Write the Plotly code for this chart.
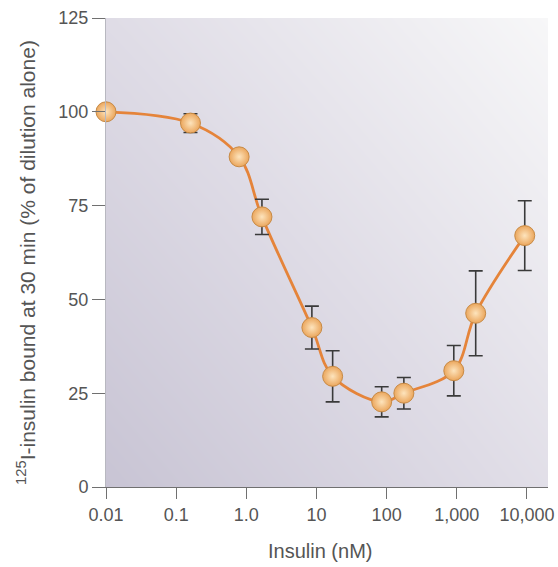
import plotly.graph_objects as go

# Data
insulin_nM = [0.01, 0.16, 0.79, 1.67, 8.6, 17, 85, 176, 906, 1860, 9300]
bound_pct = [100, 97, 88, 72, 42.5, 29.5, 22.7, 25, 31, 46.3, 67]
err_pct = [0, 2.5, 0, 4.7, 5.7, 6.8, 4.0, 4.2, 6.7, 11.3, 9.3]

x_tickvals = [0.01, 0.1, 1, 10, 100, 1000, 10000]
x_ticktext = ["0.01", "0.1", "1.0", "10", "100", "1,000", "10,000"]
y_tickvals = [0, 25, 50, 75, 100, 125]

x_title = "Insulin (nM)"
y_title = "<sup>125</sup>I-insulin bound at 30 min (% of dilution alone)"

font_family = "Liberation Sans, Arial, sans-serif"
text_color = "#555555"

fig = go.Figure()

# Gradient background for the plot area (on hidden base axes)
fig.add_trace(go.Heatmap(
    x=[0, 1], y=[0, 1], z=[[0, 0.55], [0.5, 1]],
    zsmooth="best", showscale=False, hoverinfo="skip",
    colorscale=[[0, "#c8c4d4"], [0.5, "#dfdce6"], [1, "#f7f7f8"]],
    xaxis="x", yaxis="y",
))

# Smooth curve
fig.add_trace(go.Scatter(
    x=insulin_nM, y=bound_pct, mode="lines",
    line=dict(color="#e5843a", width=2.8, shape="spline", smoothing=1.0),
    xaxis="x2", yaxis="y2", hoverinfo="skip", cliponaxis=False,
))

# Points with error bars
fig.add_trace(go.Scatter(
    x=insulin_nM, y=bound_pct, mode="markers",
    error_y=dict(type="data", array=err_pct, visible=True,
                 color="#3a3a3a", thickness=1.6, width=7),
    marker=dict(size=20, color="#eba65c",
                gradient=dict(type="radial", color="#fde4bd"),
                line=dict(color="#c78a45", width=1)),
    xaxis="x2", yaxis="y2", cliponaxis=False,
))

fig.update_layout(
    width=558, height=567,
    margin=dict(l=106, r=10, t=18, b=80),
    paper_bgcolor="white", plot_bgcolor="white",
    showlegend=False,
    font=dict(family=font_family, size=18, color=text_color),
    xaxis=dict(range=[0, 1], visible=False, fixedrange=True, automargin=False),
    yaxis=dict(range=[0, 1], visible=False, fixedrange=True, automargin=False),
    xaxis2=dict(
        type="log", range=[-2, 4.3], overlaying="x",
        tickvals=x_tickvals, ticktext=x_ticktext,
        showgrid=False, zeroline=False, automargin=False,
        showline=True, linecolor="#707070", linewidth=1.2,
        ticks="outside", ticklen=11, tickcolor="#707070", tickwidth=1.2,
        tickfont=dict(size=18, color=text_color),
        anchor="y2",
    ),
    yaxis2=dict(
        range=[0, 125], overlaying="y",
        tickvals=y_tickvals, ticksuffix="\u2009",
        showgrid=False, zeroline=False, automargin=False,
        showline=True, linecolor="#b8b8c0", linewidth=1,
        ticks="outside", ticklen=13, tickcolor="#707070", tickwidth=1.2,
        tickfont=dict(size=18, color=text_color),
        anchor="x2",
    ),
    annotations=[
        dict(text=x_title, xref="paper", yref="paper", x=0.484, y=-0.136,
             xanchor="center", yanchor="middle", showarrow=False,
             font=dict(size=20, color=text_color)),
        dict(text=y_title, xref="paper", yref="paper", x=-0.181, y=0.48,
             xanchor="center", yanchor="middle", showarrow=False, textangle=-90,
             font=dict(size=21, color=text_color)),
    ],
)

fig.write_html("out.html", config={"displayModeBar": False},
               post_script="document.body.style.margin='0px';")
